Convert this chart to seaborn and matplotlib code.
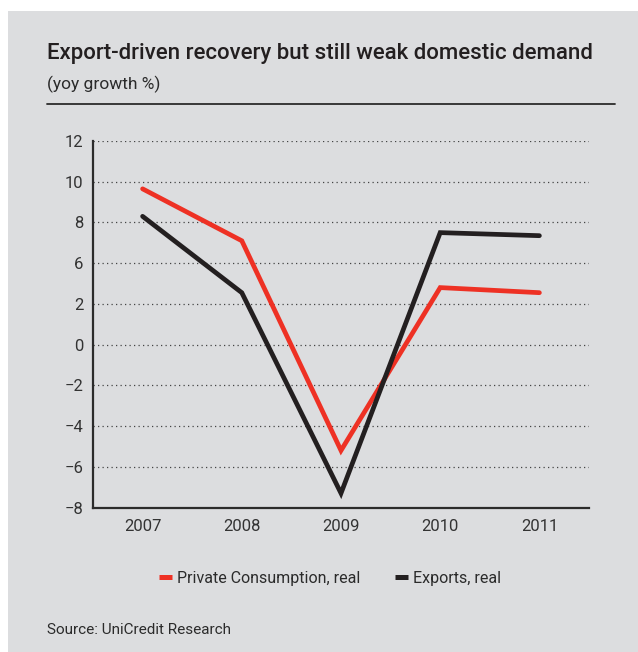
import matplotlib
matplotlib.use("Agg")
import matplotlib.pyplot as plt
from matplotlib.patches import Rectangle
import seaborn as sns
import pandas as pd

# Annual real growth, % yoy
years = ["2007", "2008", "2009", "2010", "2011"]
private_consumption = [7.65, 5.1, -5.2, 2.8, 2.55]
exports = [6.3, 2.55, -7.3, 5.5, 5.35]
series_names = ["Private Consumption, real", "Exports, real"]
series_colors = ["#ee3124", "#231f20"]

# y-axis ticks and the labels printed beside them
y_ticks = [-8, -6, -4, -2, 0, 2, 4, 6, 8, 10]
y_tick_labels = ["\u22128", "\u22126", "\u22124", "\u22122", "0", "2", "6", "8", "10", "12"]

title = "Export-driven recovery but still weak domestic demand"
subtitle = "(yoy growth %)"
source = "Source: UniCredit Research"

df = pd.DataFrame({
    "year": years * 2,
    "growth": private_consumption + exports,
    "series": [series_names[0]] * len(years) + [series_names[1]] * len(years),
})

sns.set_theme(style="white")
plt.rcParams["font.family"] = ["Roboto", "DejaVu Sans"]

BG = "#dcdddf"
W, H = 638, 652
fig = plt.figure(figsize=(W / 100, H / 100), dpi=100, facecolor="white")
fig.patches.append(Rectangle((8 / W, 0), 1, 1 - 11 / H, transform=fig.transFigure,
                             facecolor=BG, edgecolor="none", zorder=-10))

ax = fig.add_axes([93 / W, 1 - 507.5 / H, 496 / W, 366.5 / H])
ax.set_facecolor(BG)

sns.lineplot(data=df, x="year", y="growth", hue="series",
             palette=dict(zip(series_names, series_colors)),
             linewidth=3.4, ax=ax, legend=True, sort=False)
for ln in ax.get_lines():
    ln.set_solid_capstyle("round")
    ln.set_solid_joinstyle("miter")

ax.set_xlim(-0.5, len(years) - 0.5)
ax.set_ylim(-8, 10)
ax.set_yticks(y_ticks)
ax.set_yticklabels(y_tick_labels)
ax.set_xlabel("")
ax.set_ylabel("")
ax.tick_params(axis="both", length=0, labelsize=12, colors="#333333")
ax.tick_params(axis="y", pad=7)
ax.tick_params(axis="x", pad=8)

ax.yaxis.grid(True, linestyle=(0, (1, 2.6)), color="#444444", linewidth=0.9)
ax.xaxis.grid(False)
ax.set_axisbelow(True)
for side in ["top", "right"]:
    ax.spines[side].set_visible(False)
for side in ["left", "bottom"]:
    ax.spines[side].set_color("#2b2b2b")
    ax.spines[side].set_linewidth(1.6)

handles, labels = ax.get_legend_handles_labels()
for h in handles:
    h.set_linewidth(3.6)
    h.set_solid_capstyle("butt")
ax.legend(handles, labels, loc="center", ncol=2, frameon=False,
          bbox_to_anchor=(330 / W, 1 - 578 / H), bbox_transform=fig.transFigure,
          handlelength=0.8, handletextpad=0.3, columnspacing=2.2,
          fontsize=11.5, labelcolor="#2b2b2b")

fig.text(47 / W, 1 - 53 / H, title, fontsize=16, color="#231f20",
         va="center", ha="left", fontweight="medium")
fig.text(47 / W, 1 - 84 / H, subtitle, fontsize=12.5, color="#2b2b2b",
         va="center", ha="left")
fig.add_artist(plt.Line2D([47 / W, 615 / W], [1 - 104 / H, 1 - 104 / H],
                          transform=fig.transFigure, color="#2b2b2b", linewidth=1.3))
fig.text(47 / W, 1 - 630 / H, source, fontsize=11, color="#2b2b2b",
         va="center", ha="left")

fig.savefig("out.png", dpi=100, facecolor="white")
